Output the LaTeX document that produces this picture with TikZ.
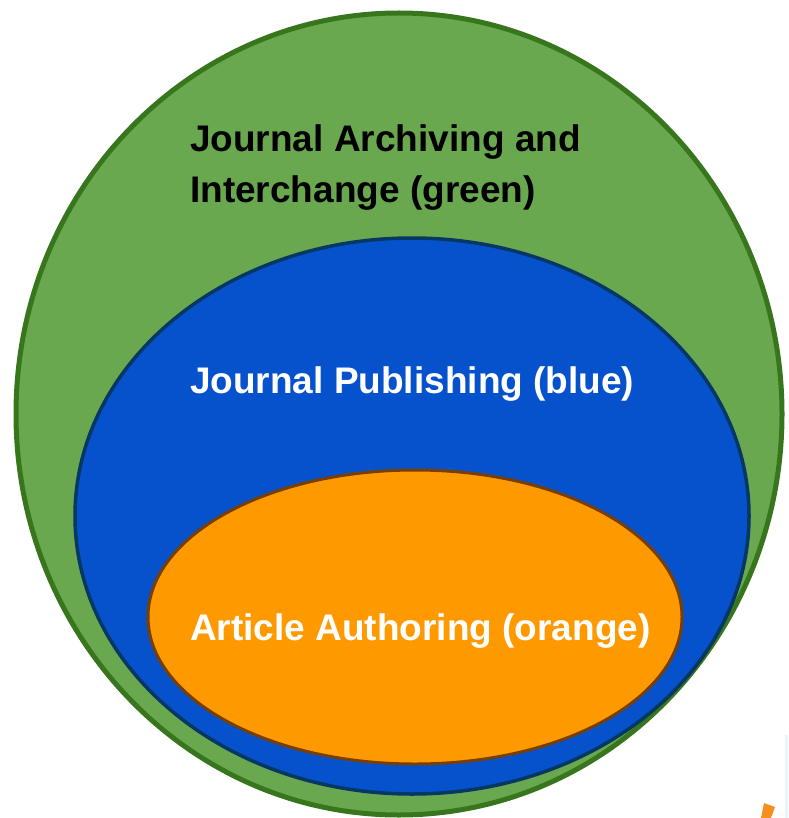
\documentclass[tikz,border=0pt]{standalone}
\usepackage{fontspec}
\setmainfont{Liberation Sans}
\definecolor{gfill}{HTML}{6AA84F}
\definecolor{gline}{HTML}{38761D}
\definecolor{bfill}{HTML}{0552CC}
\definecolor{bline}{HTML}{073763}
\definecolor{ofill}{HTML}{FF9900}
\definecolor{oline}{HTML}{783F04}
\definecolor{artor}{HTML}{F5901E}
\definecolor{artbl}{HTML}{EAF3FA}
\tikzset{
  lbl/.style={anchor=base west, inner sep=0pt, font=\fontsize{37}{44}\selectfont\bfseries},
}
\begin{document}
\begin{tikzpicture}[x=1pt,y=-1pt]
\useasboundingbox (0,0) rectangle (788,818);
\clip (0,0) rectangle (788,818);
% faint screenshot artifacts at bottom right
\fill[artbl] (785,735) rectangle (788,818);
\fill[artor] (764,803) -- (775,807) -- (771,818) -- (761,818) -- cycle;
% ellipses
\draw[gline, line width=5, fill=gfill] (399,414) ellipse [x radius=383, y radius=401];
\draw[bline, line width=3.5, fill=bfill] (412,516) ellipse [x radius=337, y radius=278];
\draw[oline, line width=3, fill=ofill] (415,617) ellipse [x radius=267, y radius=147];
% labels
\node[lbl, text=black] (g1) at (190,152) {Journal Archiving and};
\node[lbl, text=black] (g2) at (190,203) {Interchange (green)};
\node[lbl, text=white] (b) at (190,393) {Journal Publishing (blue)};
\node[lbl, text=white] (o) at (190,640) {Article Authoring (orange)};
\end{tikzpicture}
\end{document}
